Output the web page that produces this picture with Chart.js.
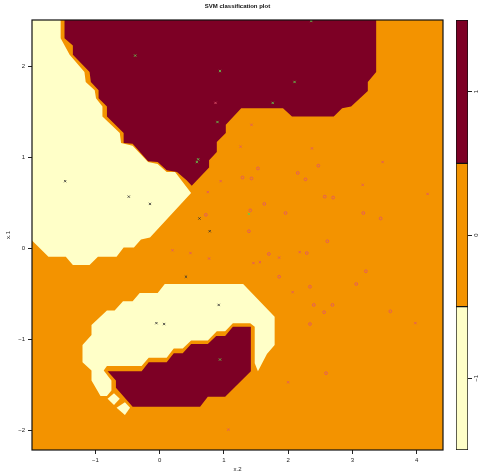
<!DOCTYPE html>
<html><head><meta charset="utf-8">
<script src="https://cdn.jsdelivr.net/npm/chart.js@4"></script>
<style>
html,body{margin:0;padding:0;background:#fff;}
#wrap{position:relative;width:479px;height:476px;overflow:hidden;}
#main{position:absolute;left:0;top:0;}
#key{position:absolute;left:440px;top:0;}
</style></head><body>
<div id="wrap"><canvas id="main" width="479" height="476"></canvas><canvas id="key" width="39" height="476"></canvas></div>
<script>
// ---- axis ranges and ticks ----
const xMin = -1.986, xMax = 4.41;
const yMin = -2.214, yMax = 2.511;
const xTicks = [-1, 0, 1, 2, 3, 4];
const yTicks = [-2, -1, 0, 1, 2];

// ---- class levels and palette ----
const keyLevels = [-1, 0, 1];
const levelColors = ['#FFFFC8', '#F39300', '#7D0025'];
const symbolColors = ['#333333', '#DF536B', '#61D04F'];

// ---- decision regions (x.2, x.1) ----
const regionLevel0 = [[-2.3, 2.7], [4.6, 2.7], [4.6, -2.4], [-2.3, -2.4]];
const regionUpperLevelM1 = [[-2.10, 2.60], [-1.54, 2.60], [-1.54, 2.31], [-1.40, 2.13], [-1.17, 1.94], [-1.15, 1.83], [-1.01, 1.74], [-0.99, 1.65], [-0.89, 1.56], [-0.89, 1.45], [-0.62, 1.27], [-0.60, 1.16], [-0.42, 1.13], [-0.18, 0.95], [-0.03, 0.93], [0.11, 0.84], [0.24, 0.84], [0.49, 0.61], [-0.15, 0.12], [-0.29, 0.10], [-0.40, 0.01], [-0.56, 0.01], [-0.67, -0.09], [-0.96, -0.09], [-1.09, -0.18], [-1.35, -0.18], [-1.46, -0.09], [-1.73, -0.09], [-1.99, 0.09], [-2.10, 0.17]];
const regionUpperLevel1 = [[-1.48, 2.60], [3.37, 2.60], [3.37, 1.94], [3.24, 1.83], [3.24, 1.73], [2.98, 1.56], [2.84, 1.54], [2.71, 1.45], [2.06, 1.45], [1.92, 1.54], [1.27, 1.54], [1.03, 1.36], [1.03, 1.27], [0.89, 1.17], [0.89, 1.06], [0.77, 0.97], [0.77, 0.89], [0.50, 0.69], [0.42, 0.75], [0.27, 0.84], [0.11, 0.86], [-0.03, 0.95], [-0.18, 0.96], [-0.42, 1.15], [-0.56, 1.16], [-0.56, 1.27], [-0.82, 1.45], [-0.82, 1.56], [-0.95, 1.65], [-0.95, 1.74], [-1.07, 1.83], [-1.09, 1.94], [-1.35, 2.13], [-1.35, 2.23], [-1.48, 2.31]];
const regionLowerLevelM1 = [[0.08, -0.39], [1.30, -0.39], [1.79, -0.75], [1.79, -1.06], [1.67, -1.16], [1.53, -1.35], [1.48, -1.26], [1.48, -0.86], [1.41, -0.82], [1.14, -0.82], [1.02, -0.91], [0.89, -0.91], [0.75, -1.01], [0.49, -1.01], [0.36, -1.10], [0.22, -1.10], [0.11, -1.20], [-0.17, -1.20], [-0.28, -1.29], [-0.82, -1.29], [-0.87, -1.34], [-0.75, -1.45], [-0.75, -1.56], [-0.82, -1.62], [-0.92, -1.62], [-1.06, -1.45], [-1.06, -1.34], [-1.20, -1.25], [-1.20, -1.06], [-1.06, -0.95], [-1.06, -0.84], [-0.82, -0.68], [-0.70, -0.68], [-0.57, -0.58], [-0.42, -0.58], [-0.31, -0.49], [-0.03, -0.49]];
const regionDiamondA = [[-0.71, -1.59], [-0.62, -1.65], [-0.71, -1.72], [-0.81, -1.65]];
const regionDiamondB = [[-0.54, -1.69], [-0.46, -1.75], [-0.54, -1.83], [-0.67, -1.75]];
const regionLowerLevel1 = [[-0.81, -1.35], [-0.28, -1.35], [-0.17, -1.25], [0.11, -1.25], [0.22, -1.15], [0.36, -1.15], [0.49, -1.05], [0.75, -1.05], [0.88, -0.96], [1.02, -0.96], [1.14, -0.86], [1.42, -0.86], [1.42, -1.35], [1.02, -1.63], [0.75, -1.63], [0.63, -1.74], [-0.42, -1.74], [-0.68, -1.53], [-0.68, -1.45]];

// ---- observations (x.2, x.1) ----
const supportM1 = [[-1.47, 0.74], [-0.48, 0.57], [-0.15, 0.49], [0.62, 0.33], [0.78, 0.19], [0.41, -0.31], [0.92, -0.62], [-0.05, -0.82], [0.07, -0.83]];
const support0 = [[0.87, 1.60], [1.43, 1.36], [0.95, 0.74], [0.75, 0.62], [0.20, -0.02], [0.48, -0.05], [0.77, -0.11], [1.26, 1.12], [2.37, 1.10], [3.47, 0.95], [3.16, 0.70], [4.17, 0.60], [1.86, -0.10], [2.18, -0.04], [1.46, -0.16], [1.56, -0.15], [2.07, -0.48], [3.98, -0.82], [2.00, -1.47], [1.07, -1.99]];
const support1 = [[-0.38, 2.12], [0.94, 1.95], [0.90, 1.39], [0.60, 0.98], [0.58, 0.95], [2.36, 2.50], [2.10, 1.83], [1.76, 1.60], [0.94, -1.22], [1.39, 0.38]];
const other0 = [[0.72, 0.37], [1.53, 0.88], [1.29, 0.78], [1.43, 0.77], [2.15, 0.83], [2.47, 0.91], [2.27, 0.76], [2.57, 0.57], [2.70, 0.56], [1.63, 0.49], [1.41, 0.42], [1.96, 0.39], [3.17, 0.39], [3.44, 0.33], [1.39, 0.19], [2.61, 0.08], [1.70, -0.06], [2.29, -0.05], [3.21, -0.25], [1.86, -0.31], [3.06, -0.39], [2.34, -0.42], [2.40, -0.62], [2.69, -0.62], [2.56, -0.70], [3.59, -0.69], [2.34, -0.83], [2.59, -1.37]];

const FONT = "'Liberation Sans', Arial, Helvetica, sans-serif";
const TXT = '#222';
const fmt = v => String(v).replace('-', '\u2212');
const toXY = arr => arr.map(p => ({x: p[0], y: p[1]}));

function regionSet(arr, color, order) {
  return {data: toXY(arr), showLine: true, fill: 'shape', backgroundColor: color,
    borderColor: 'rgba(0,0,0,0)', borderWidth: 0, pointRadius: 0, pointHoverRadius: 0,
    tension: 0, order: order};
}
function pointSet(arr, color, style, r) {
  return {data: toXY(arr), showLine: false, pointStyle: style, pointRadius: r,
    pointHoverRadius: r, pointBorderColor: color, pointBackgroundColor: 'rgba(0,0,0,0)',
    pointBorderWidth: 0.8, borderColor: color, backgroundColor: 'rgba(0,0,0,0)', order: 1};
}

const framePlugin = {
  id: 'frame',
  afterDraw(chart) {
    const a = chart.chartArea, c = chart.ctx;
    c.save(); c.strokeStyle = '#111'; c.lineWidth = 1.2;
    c.strokeRect(a.left, a.top, a.right - a.left, a.bottom - a.top);
    c.restore();
  }
};

new Chart(document.getElementById('main'), {
  type: 'line',
  data: {datasets: [
    regionSet(regionLevel0, levelColors[1], 20),
    regionSet(regionUpperLevelM1, levelColors[0], 15),
    regionSet(regionLowerLevelM1, levelColors[0], 15),
    regionSet(regionDiamondA, levelColors[0], 15),
    regionSet(regionDiamondB, levelColors[0], 15),
    regionSet(regionUpperLevel1, levelColors[2], 10),
    regionSet(regionLowerLevel1, levelColors[2], 10),
    pointSet(other0, symbolColors[1], 'circle', 1.4),
    pointSet(support0, symbolColors[1], 'crossRot', 1.6),
    pointSet(supportM1, symbolColors[0], 'crossRot', 1.6),
    pointSet(support1, symbolColors[2], 'crossRot', 1.6)
  ]},
  options: {
    responsive: false, animation: false, events: [],
    layout: {padding: {left: 0, right: 4, top: 0, bottom: 0}},
    plugins: {
      legend: {display: false}, tooltip: {enabled: false},
      title: {display: true, text: 'SVM classification plot', color: '#111',
        font: {family: FONT, size: 6, weight: 'bold', lineHeight: 1.2},
        padding: {top: 2.5, bottom: 10.3}}
    },
    scales: {
      x: {type: 'linear', position: 'bottom', min: xMin, max: xMax,
        afterBuildTicks: s => { s.ticks = xTicks.map(v => ({value: v})); },
        grid: {display: true, drawOnChartArea: false, drawTicks: true, tickLength: 4, color: '#222'},
        border: {display: false},
        ticks: {padding: 3, color: TXT, font: {family: FONT, size: 6}, callback: v => fmt(v), maxRotation: 0, autoSkip: false},
        title: {display: true, text: 'x.2', color: TXT, font: {family: FONT, size: 6, lineHeight: 1.2}, padding: {top: 0, bottom: 3}},
        afterFit: s => { s.height = 26; }
      },
      y: {type: 'linear', position: 'left', min: yMin, max: yMax,
        afterBuildTicks: s => { s.ticks = yTicks.map(v => ({value: v})); },
        grid: {display: true, drawOnChartArea: false, drawTicks: true, tickLength: 4, color: '#222'},
        border: {display: false},
        ticks: {padding: 3, color: TXT, font: {family: FONT, size: 6}, callback: v => fmt(v), autoSkip: false},
        title: {display: true, text: 'x.1', color: TXT, font: {family: FONT, size: 6, lineHeight: 1.2}, padding: {top: 5, bottom: 0}},
        afterFit: s => { s.width = 32; }
      },
      yR: {type: 'linear', position: 'right', display: true,
        grid: {display: false}, border: {display: false}, ticks: {display: false},
        afterFit: s => { s.width = 32; }
      }
    }
  },
  plugins: [framePlugin]
});

new Chart(document.getElementById('key'), {
  type: 'bar',
  data: {labels: ['key'], datasets: keyLevels.map((lev, i) => ({
    data: [[lev - 0.5, lev + 0.5]], backgroundColor: levelColors[i], borderColor: '#111',
    borderWidth: 1, borderSkipped: false, barPercentage: 1, categoryPercentage: 1, grouped: false
  }))},
  options: {
    responsive: false, animation: false, events: [],
    layout: {padding: {left: 16, top: 20, bottom: 26, right: 0}},
    plugins: {legend: {display: false}, tooltip: {enabled: false}},
    scales: {
      x: {display: false},
      y: {position: 'right', min: -1.5, max: 1.5,
        afterBuildTicks: s => { s.ticks = keyLevels.map(v => ({value: v})); },
        grid: {display: true, drawOnChartArea: false, drawTicks: true, tickLength: 4, color: '#222'},
        border: {display: false},
        ticks: {minRotation: 90, maxRotation: 90, crossAlign: 'center', padding: 1, color: TXT,
          font: {family: FONT, size: 6}, callback: v => fmt(v), autoSkip: false},
        afterFit: s => { s.width = 11; }
      }
    }
  }
});
</script>
</body></html>
